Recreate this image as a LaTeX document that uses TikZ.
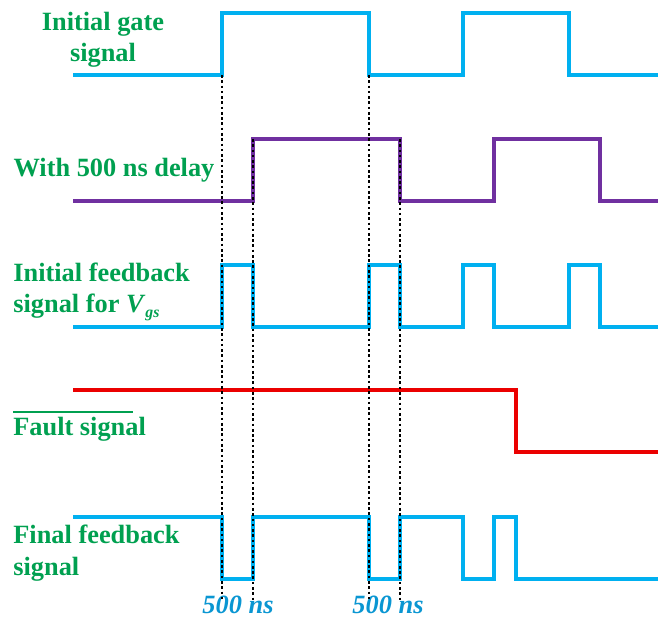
\documentclass[tikz,border=0pt]{standalone}
\usepackage{fontspec}
\setmainfont{Liberation Serif}
\definecolor{sigblue}{RGB}{0,176,240}
\definecolor{sigpurple}{RGB}{112,48,160}
\definecolor{sigred}{RGB}{235,0,0}
\definecolor{labgreen}{RGB}{0,160,80}
\definecolor{nsblue}{RGB}{10,150,210}
\tikzset{
	wave/.style = {line width = 2.3pt, line join = miter},
	guide/.style = {black, line width = 1.5pt, dash pattern = on 1.5pt off 1.5pt},
	lab/.style = {text = labgreen, inner sep = 0pt, font = \bfseries\fontsize{15}{17.8}\selectfont},
	nslab/.style = {text = nsblue, inner sep = 0pt, font = \bfseries\itshape\fontsize{15}{17.8}\selectfont}
}
\begin{document}
\begin{tikzpicture}[x = .02cm, y = -.02cm]
		\useasboundingbox (0,0) rectangle (658,617);
		
		\node (gate) at (103,40) [lab, align = center] {Initial gate\\signal};
		\node (delay) at (114,170) [lab] {With 500 ns delay};
		\node (fbk) at (13,292) [lab, anchor = west, align = left] {Initial feedback\\signal for \textit{V}\raisebox{-.45ex}{\small\textit{gs}}};
		\node (fault) at (13,429) [lab, anchor = west] {Fault signal};
		\node (final) at (13,553) [lab, anchor = west, align = left] {Final feedback\\signal};
		\node (ns1) at (238,605) [nslab] {500 ns};
		\node (ns2) at (388,605) [nslab] {500 ns};
		
		\draw [labgreen, line width = 1.7pt] (13,412) -- (133,412);
		
		\draw [wave, sigblue] (73,75) -- (222,75) -- (222,13) -- (369,13) -- (369,75) -- (463,75) -- (463,13) -- (569,13) -- (569,75) -- (658,75);
		\draw [wave, sigpurple] (73,201) -- (253,201) -- (253,139) -- (400,139) -- (400,201) -- (494,201) -- (494,139) -- (600,139) -- (600,201) -- (658,201);
		\draw [wave, sigblue] (73,327) -- (222,327) -- (222,265) -- (253,265) -- (253,327) -- (369,327) -- (369,265) -- (400,265) -- (400,327)
			-- (463,327) -- (463,265) -- (494,265) -- (494,327) -- (569,327) -- (569,265) -- (600,265) -- (600,327) -- (658,327);
		\draw [wave, sigred] (73,390) -- (516,390) -- (516,452) -- (658,452);
		\draw [wave, sigblue] (73,517) -- (222,517) -- (222,579) -- (253,579) -- (253,517) -- (369,517) -- (369,579) -- (400,579) -- (400,517)
			-- (463,517) -- (463,579) -- (494,579) -- (494,517) -- (516,517) -- (516,579) -- (658,579);
		
		\draw [guide] (222,75) -- (222,600);
		\draw [guide] (253,139) -- (253,600);
		\draw [guide] (369,75) -- (369,600);
		\draw [guide] (400,139) -- (400,600);
		\end{tikzpicture}
\end{document}
